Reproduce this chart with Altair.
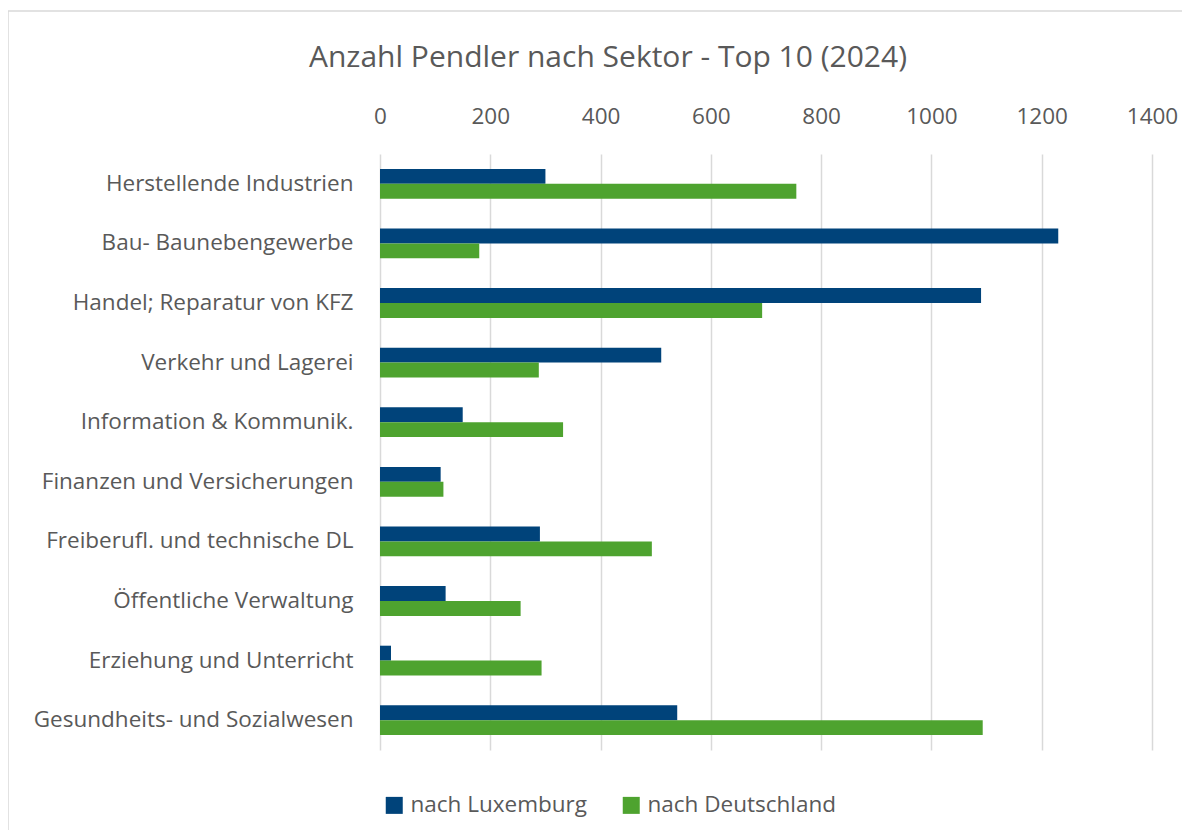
import altair as alt
import pandas as pd

sectors = [
    "Herstellende Industrien",
    "Bau- Baunebengewerbe",
    "Handel; Reparatur von KFZ",
    "Verkehr und Lagerei",
    "Information & Kommunik.",
    "Finanzen und Versicherungen",
    "Freiberufl. und technische DL",
    "Öffentliche Verwaltung",
    "Erziehung und Unterricht",
    "Gesundheits- und Sozialwesen",
]
nach_luxemburg = [300, 1230, 1090, 510, 150, 110, 290, 119, 20, 539]
nach_deutschland = [755, 180, 693, 288, 332, 115, 493, 255, 293, 1093]
series = ["nach Luxemburg", "nach Deutschland"]
colors = ["#00437a", "#4ea32f"]
x_ticks = [0, 200, 400, 600, 800, 1000, 1200, 1400]

rows = []
for s, a, b in zip(sectors, nach_luxemburg, nach_deutschland):
    rows.append({"Sektor": s, "Ziel": series[0], "Anzahl": a})
    rows.append({"Sektor": s, "Ziel": series[1], "Anzahl": b})
df = pd.DataFrame(rows)

FONT = "Open Sans"
TXT = "#595959"
FS = 22.5

bars = alt.Chart(df).mark_bar().encode(
    x=alt.X(
        "Anzahl:Q",
        scale=alt.Scale(domain=[0, 1400], nice=False),
        axis=alt.Axis(
            orient="top", values=x_ticks, title=None, grid=True, format="d",
            gridColor="#d9d9d9", gridWidth=1.5, domain=False, ticks=False,
            labelFontSize=FS, labelColor=TXT, labelFont=FONT, labelPadding=26,
            labelFlush=False,
        ),
    ),
    y=alt.Y(
        "Sektor:N", sort=sectors,
        scale=alt.Scale(paddingInner=0.5, paddingOuter=0.25),
        axis=alt.Axis(
            title=None, domain=False, ticks=False, labelPadding=27,
            labelFontSize=FS, labelColor=TXT, labelFont=FONT, labelLimit=500,
        ),
    ),
    yOffset=alt.YOffset("Ziel:N", sort=series),
    color=alt.Color(
        "Ziel:N", sort=series,
        scale=alt.Scale(domain=series, range=colors),
        legend=alt.Legend(
            title=None, orient="none", direction="horizontal",
            legendX=3, legendY=640, symbolType="square", symbolSize=289,
            symbolStrokeWidth=0, labelFontSize=FS, labelColor=TXT,
            labelFont=FONT, columnPadding=33, labelOffset=5, labelLimit=400,
        ),
    ),
)

border_df = pd.DataFrame({"k": [0]})
top_line = alt.Chart(border_df).mark_rule(color="#d9d9d9", strokeWidth=1.5).encode(
    x=alt.value(-372), x2=alt.value(900), y=alt.value(-143)
)
left_line = alt.Chart(border_df).mark_rule(color="#d9d9d9", strokeWidth=1.5).encode(
    x=alt.value(-372), y=alt.value(-143), y2=alt.value(760)
)

chart = alt.layer(top_line, left_line, bars).properties(
    width=772,
    height=596,
    autosize=alt.AutoSizeParams(type="none"),
    padding={"left": 372, "top": 146, "right": 30, "bottom": 80},
    title=alt.TitleParams(
        "Anzahl Pendler nach Sektor - Top 10 (2024)",
        anchor="middle", dx=-158, fontSize=30, font=FONT, color=TXT,
        fontWeight="normal", offset=0, dy=63,
    ),
).configure_view(stroke=None)

chart.save("out.html", embed_options={"renderer": "svg", "actions": False})
